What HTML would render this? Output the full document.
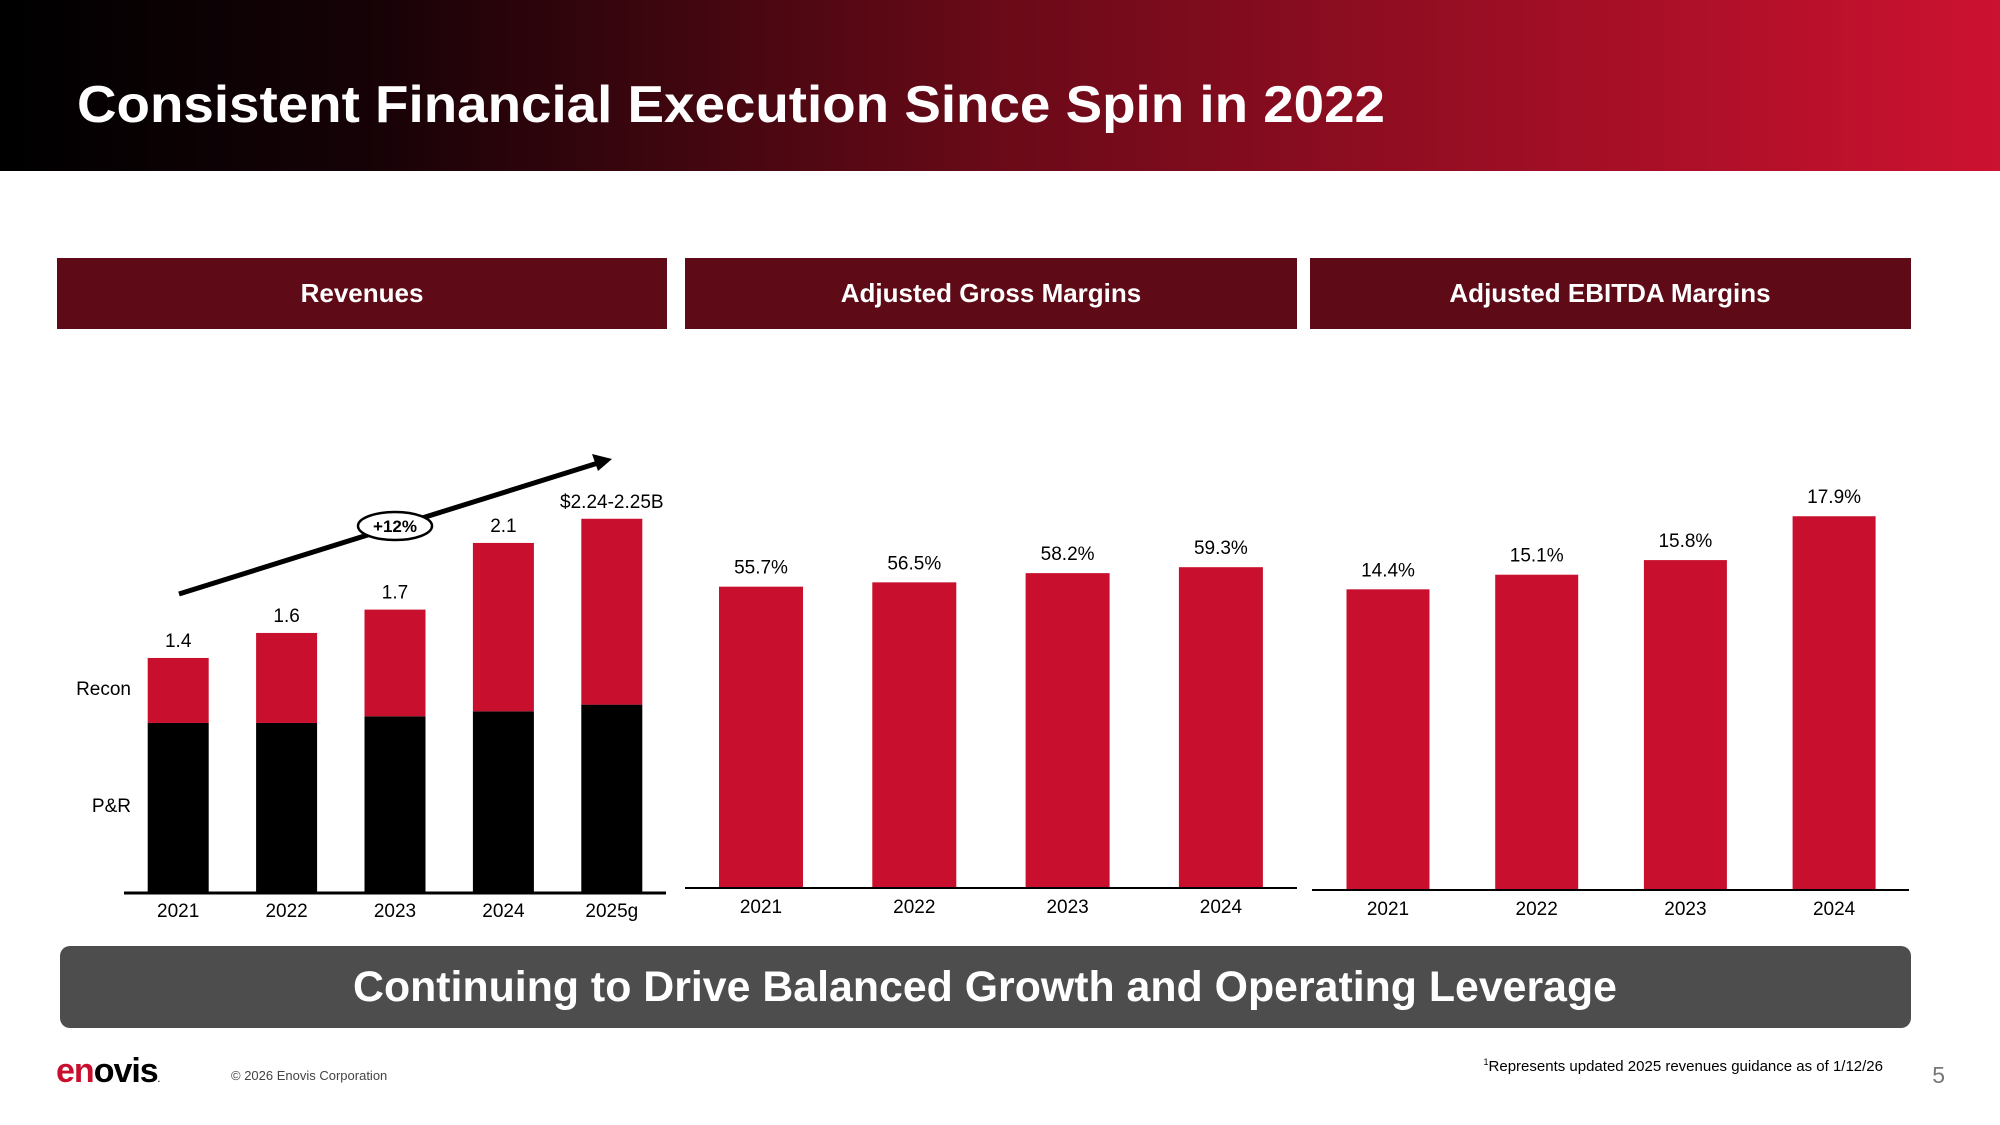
<!DOCTYPE html>
<html><head><meta charset="utf-8"><style>
html,body{margin:0;padding:0;background:#fff;}
svg{display:block;font-family:"Liberation Sans",sans-serif;}
</style></head><body>
<svg id="slide" width="2000" height="1125" viewBox="0 0 2000 1125" xmlns="http://www.w3.org/2000/svg">
<defs>
<linearGradient id="hdr" x1="0" y1="0" x2="1" y2="0">
<stop offset="0" stop-color="#000"/><stop offset="0.18" stop-color="#150206"/><stop offset="0.5" stop-color="#6a0a18"/><stop offset="1" stop-color="#cc1230"/>
</linearGradient>
</defs>
<rect x="0" y="0" width="2000" height="171" fill="url(#hdr)"/>
<text x="77" y="122" font-size="52" font-weight="bold" fill="#fff" textLength="1308" lengthAdjust="spacingAndGlyphs">Consistent Financial Execution Since Spin in 2022</text>

<rect x="57" y="258" width="610" height="71" fill="#5e0a17"/>
<text x="362" y="302" font-size="26" font-weight="bold" fill="#fff" text-anchor="middle">Revenues</text>
<rect x="685" y="258" width="612" height="71" fill="#5e0a17"/>
<text x="991" y="302" font-size="26" font-weight="bold" fill="#fff" text-anchor="middle">Adjusted Gross Margins</text>
<rect x="1310" y="258" width="601" height="71" fill="#5e0a17"/>
<text x="1610" y="302" font-size="26" font-weight="bold" fill="#fff" text-anchor="middle">Adjusted EBITDA Margins</text>

<g id="rev"></g>
<g id="gm"></g>
<g id="eb"></g>

<line x1="179" y1="594" x2="598" y2="463" stroke="#000" stroke-width="5"/>
<polygon points="612,459 592,454 598,471" fill="#000"/>
<ellipse cx="395" cy="526" rx="37" ry="14" fill="#fff" stroke="#000" stroke-width="2.5"/>
<text x="395" y="532" font-size="17" font-weight="bold" text-anchor="middle">+12%</text>
<text x="131" y="695" font-size="19" text-anchor="end">Recon</text>
<text x="131" y="812" font-size="19" text-anchor="end">P&amp;R</text>

<rect x="60" y="946" width="1851" height="82" rx="10" fill="#4d4d4d"/>
<text x="985" y="1001" font-size="43" font-weight="bold" fill="#fff" text-anchor="middle" textLength="1264" lengthAdjust="spacingAndGlyphs">Continuing to Drive Balanced Growth and Operating Leverage</text>

<text x="56" y="1082" font-size="34" font-weight="bold" letter-spacing="-1"><tspan fill="#c8102e">en</tspan><tspan fill="#000">ovis</tspan><tspan font-size="8" fill="#000">.</tspan></text>
<text x="231" y="1080" font-size="13" fill="#444">© 2026 Enovis Corporation</text>
<text x="1883" y="1071" font-size="15" fill="#000" text-anchor="end"><tspan font-size="9" dy="-6">1</tspan><tspan dy="6">Represents updated 2025 revenues guidance as of 1/12/26</tspan></text>
<text x="1945" y="1083" font-size="23" fill="#777" text-anchor="end">5</text>
</svg>
<script>
const NS = "http://www.w3.org/2000/svg";
const revYears = ["2021","2022","2023","2024","2025g"];
const revTotal = [1.41,1.56,1.70,2.10,2.245];
const revPR = [1.02,1.02,1.06,1.09,1.13];
const revLabels = ["1.4","1.6","1.7","2.1","$2.24-2.25B"];
const gmYears = ["2021","2022","2023","2024"];
const gmValues = [55.7,56.5,58.2,59.3];
const ebYears = ["2021","2022","2023","2024"];
const ebValues = [14.4,15.1,15.8,17.9];

function mk(parent, tag, attrs){const e=document.createElementNS(NS,tag);for(const k in attrs)e.setAttribute(k,attrs[k]);parent.appendChild(e);return e;}

(function(){
  const g=document.getElementById('rev');
  const base=893, x0=124, x1=666, bw=61, per=166.7;
  const band=(x1-x0)/revYears.length;
  const xc=i=>x0+band*(i+0.5);
  const y=v=>base-v*per;
  revYears.forEach((yr,i)=>{
    const pr=mk(g,'rect',{x:xc(i)-bw/2,y:y(revPR[i]),width:bw,height:base-y(revPR[i]),fill:'#000'});
    
    
    const rc=mk(g,'rect',{x:xc(i)-bw/2,y:y(revTotal[i]),width:bw,height:y(revPR[i])-y(revTotal[i]),fill:'#c8102e'});
    
    
    const t=mk(g,'text',{x:xc(i),y:y(revTotal[i])-11,'font-size':19,'text-anchor':'middle'});
    t.textContent=revLabels[i];
    
    
    const l=mk(g,'text',{x:xc(i),y:917,'font-size':19,'text-anchor':'middle'});
    l.textContent=yr;
    
    
  });
  const ax=mk(g,'line',{x1:x0,y1:base,x2:x1,y2:base,stroke:'#000','stroke-width':3});
  
  
})();

function marginChart(id, years, vals, base, x0, x1, bw, per, centers0, step, prefix){
  const g=document.getElementById(id);
  const xc=i=>centers0+step*i;
  const y=v=>base-v*per;
  years.forEach((yr,i)=>{
    const b=mk(g,'rect',{x:xc(i)-bw/2,y:y(vals[i]),width:bw,height:base-y(vals[i]),fill:'#c8102e'});
    
    
    const t=mk(g,'text',{x:xc(i),y:y(vals[i])-13,'font-size':19,'text-anchor':'middle'});
    t.textContent=vals[i].toFixed(1)+'%';
    
    
    const l=mk(g,'text',{x:xc(i),y:base+25,'font-size':19,'text-anchor':'middle'});
    l.textContent=yr;
    
    
  });
  const ax=mk(g,'line',{x1:x0,y1:base,x2:x1,y2:base,stroke:'#000','stroke-width':2});
  
  
}
marginChart('gm',gmYears,gmValues,888,685,1297,84,5.41,761,153.3,'gross-margin');
marginChart('eb',ebYears,ebValues,890,1312,1909,83,20.88,1388,148.7,'ebitda-margin');
</script>
</body></html>
